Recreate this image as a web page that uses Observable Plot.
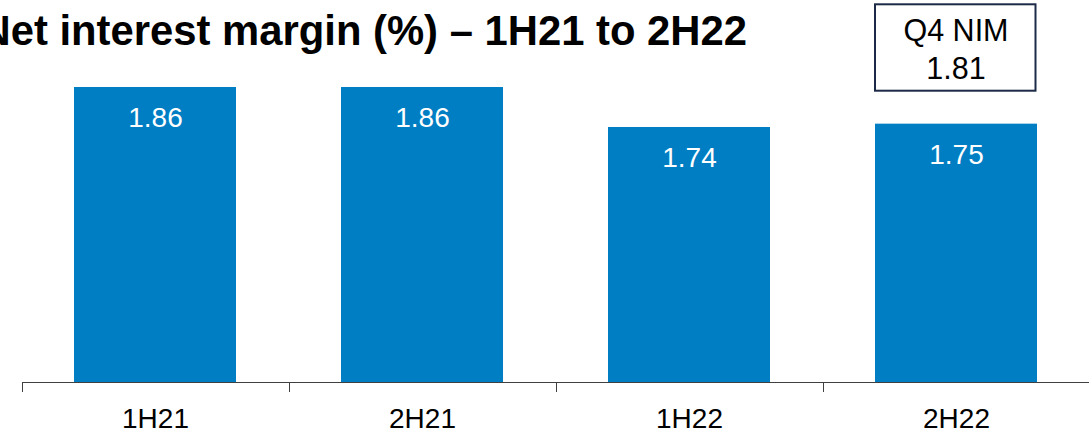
<!DOCTYPE html>
<html><head><meta charset="utf-8">
<script src="https://cdn.jsdelivr.net/npm/d3@7"></script>
<script src="https://cdn.jsdelivr.net/npm/@observablehq/plot@0.6"></script>
<style>body{margin:0;background:#fff;overflow:hidden} #chart svg{display:block}</style>
</head><body><div id="chart"></div>
<script>
const title = "Net interest margin (%) – 1H21 to 2H22";
const categories = ["1H21", "2H21", "1H22", "2H22"];
const values = [1.86, 1.86, 1.74, 1.75];
const valueLabels = ["1.86", "1.86", "1.74", "1.75"];
const q4Lines = ["Q4 NIM", "1.81"];
const q4Category = "2H22";
const yMin = 0.975, yMax = 2.121;

const data = categories.map((c, i) => ({cat: c, value: values[i], label: valueLabels[i]}));
const font = "'Liberation Sans', Arial, Helvetica, sans-serif";
const barColor = "#007ec4";
const axisColor = "#404040";

function bw(x) { return typeof x.bandwidth === "function" ? x.bandwidth() : (x.bandwidth || 0); }

function bandTicks(index, scales) {
  const x = scales.x, y0 = scales.y(yMin);
  const b = bw(x);
  const centers = categories.map(c => x(c) + b / 2);
  const step = centers[1] - centers[0];
  const edges = [centers[0] - step / 2];
  for (let i = 1; i < centers.length; i++) edges.push((centers[i - 1] + centers[i]) / 2);
  edges.push(centers[centers.length - 1] + step / 2);
  const g = d3.create("svg:g").attr("stroke", axisColor).attr("stroke-width", 1);
  for (const e of edges) {
    const ex = Math.round(e) + 0.5;
    g.append("line").attr("x1", ex).attr("x2", ex).attr("y1", y0).attr("y2", y0 + 10);
  }
  return g.node();
}

function q4Box(index, scales) {
  const x = scales.x, b = bw(x);
  const left = x(q4Category), cx = left + b / 2;
  const g = d3.create("svg:g");
  g.append("rect").attr("x", left).attr("y", 4.3).attr("width", b - 1.5).attr("height", 86.4)
    .attr("fill", "#fff").attr("stroke", "#1c2a48").attr("stroke-width", 2);
  q4Lines.forEach((t, i) => {
    g.append("text").attr("x", cx).attr("y", 40.7 + i * 38.6).attr("text-anchor", "middle")
      .attr("font-family", font).attr("font-size", 30.5).attr("fill", "#000").text(t);
  });
  return g.node();
}

const chart = Plot.plot({
  width: 1089,
  height: 431,
  marginLeft: 22,
  marginRight: -1,
  marginTop: 0,
  marginBottom: 49,
  style: {fontFamily: font, background: "#fff", overflow: "hidden"},
  x: {domain: categories, paddingInner: 0.393, paddingOuter: 0.1965, axis: null},
  y: {domain: [yMin, yMax], axis: null},
  marks: [
    Plot.barY(data, {x: "cat", y: "value", fill: barColor, clip: true}),
    Plot.text(data, {x: "cat", y: "value", text: "label", dy: 39.5, lineAnchor: "bottom",
      fill: "#fff", fontSize: 28}),
    Plot.ruleY([yMin], {stroke: axisColor, strokeWidth: 1.2}),
    bandTicks,
    Plot.text(categories, {x: d => d, frameAnchor: "bottom", dy: 45, lineAnchor: "bottom",
      fontSize: 28, fill: "#000"}),
    Plot.text([title], {frameAnchor: "top-left", dx: -42, dy: 44, lineAnchor: "bottom",
      textAnchor: "start", fontSize: 41.8, fontWeight: "bold", fill: "#000"}),
    q4Box
  ]
});
document.getElementById("chart").appendChild(chart);
</script>
</body></html>
